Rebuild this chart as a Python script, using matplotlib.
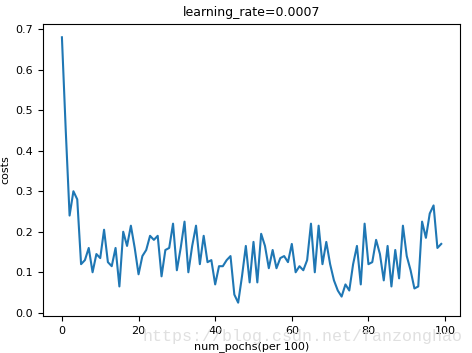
import matplotlib
matplotlib.use("Agg")
import matplotlib.pyplot as plt

costs = [0.68, 0.45, 0.24, 0.30, 0.28, 0.12, 0.13, 0.16, 0.10, 0.145,
         0.135, 0.205, 0.125, 0.115, 0.16, 0.065, 0.20, 0.165, 0.215, 0.16,
         0.095, 0.14, 0.155, 0.19, 0.18, 0.19, 0.09, 0.155, 0.16, 0.22,
         0.105, 0.16, 0.225, 0.10, 0.165, 0.215, 0.12, 0.19, 0.125, 0.13,
         0.07, 0.115, 0.115, 0.13, 0.14, 0.045, 0.025, 0.09, 0.165, 0.075,
         0.175, 0.075, 0.195, 0.165, 0.11, 0.155, 0.11, 0.135, 0.14, 0.125,
         0.17, 0.10, 0.115, 0.105, 0.13, 0.22, 0.10, 0.215, 0.12, 0.175,
         0.12, 0.08, 0.055, 0.04, 0.07, 0.055, 0.12, 0.165, 0.07, 0.22,
         0.12, 0.125, 0.18, 0.145, 0.08, 0.165, 0.065, 0.155, 0.085, 0.215,
         0.14, 0.105, 0.06, 0.065, 0.225, 0.185, 0.245, 0.265, 0.16, 0.17]

title = "learning_rate=0.0007"
xlabel = "num_pochs(per 100)"
ylabel = "costs"

fig = plt.figure(figsize=(4.72, 3.53), dpi=100)
ax = fig.add_axes([0.091, 0.105, 0.884, 0.827])
ax.plot(range(len(costs)), costs, color="#1f77b4", linewidth=1.5)
ax.set_title(title, fontsize=9)
ax.set_xlabel(xlabel, fontsize=8)
ax.set_ylabel(ylabel, fontsize=8)
ax.tick_params(labelsize=8)
fig.text(0.64, 0.035, "https://blog.csdn.net/fanzonghao", fontsize=12,
         family="Liberation Mono", color="#dddddd", alpha=0.9, ha="center")
fig.savefig("out.png", dpi=100)
